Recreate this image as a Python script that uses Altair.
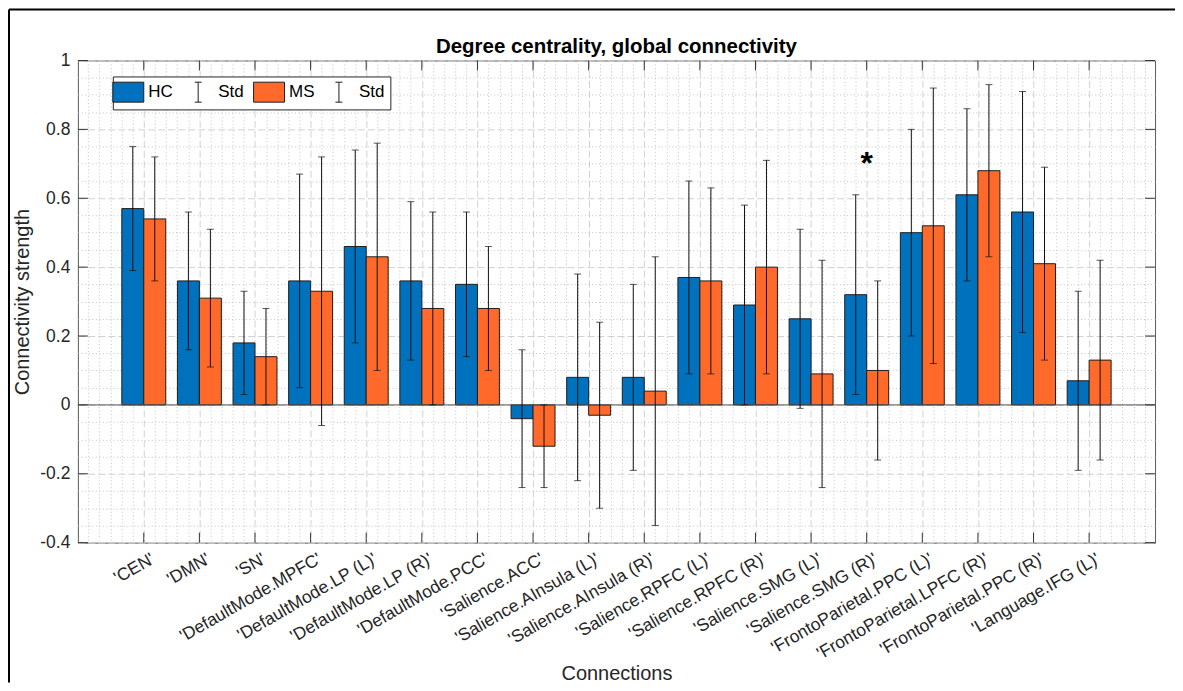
import altair as alt
import pandas as pd

# ---------------- data ----------------
connections = [
    "'CEN'", "'DMN'", "'SN'", "'DefaultMode.MPFC'", "'DefaultMode.LP (L)'",
    "'DefaultMode.LP (R)'", "'DefaultMode.PCC'", "'Salience.ACC'",
    "'Salience.AInsula (L)'", "'Salience.AInsula (R)'", "'Salience.RPFC (L)'",
    "'Salience.RPFC (R)'", "'Salience.SMG (L)'", "'Salience.SMG (R)'",
    "'FrontoParietal.PPC (L)'", "'FrontoParietal.LPFC (R)'",
    "'FrontoParietal.PPC (R)'", "'Language.IFG (L)'",
]
hc_mean = [0.57, 0.36, 0.18, 0.36, 0.46, 0.36, 0.35, -0.04, 0.08, 0.08,
           0.37, 0.29, 0.25, 0.32, 0.50, 0.61, 0.56, 0.07]
hc_std = [0.18, 0.20, 0.15, 0.31, 0.28, 0.23, 0.21, 0.20, 0.30, 0.27,
          0.28, 0.29, 0.26, 0.29, 0.30, 0.25, 0.35, 0.26]
ms_mean = [0.54, 0.31, 0.14, 0.33, 0.43, 0.28, 0.28, -0.12, -0.03, 0.04,
           0.36, 0.40, 0.09, 0.10, 0.52, 0.68, 0.41, 0.13]
ms_std = [0.18, 0.20, 0.14, 0.39, 0.33, 0.28, 0.18, 0.12, 0.27, 0.39,
          0.27, 0.31, 0.33, 0.26, 0.40, 0.25, 0.28, 0.29]
groups = ["HC", "MS"]

sig_conn = ["'Salience.SMG (R)'"]
sig_y = [0.72]

title_text = ["Degree centrality, global connectivity"]

y_major = [-0.4, -0.2, 0, 0.2, 0.4, 0.6, 0.8, 1]
y_ticks = [round(-0.4 + 0.05 * i, 2) for i in range(29)]
x_grid = [round(0.2 * i, 1) for i in range(96)]

legend_entries = ["HC", "Std", "MS", "Std "]

# ---------------- styles ----------------
BLUE = "#0072BD"
ORANGE = "#FF6A2B"
FONT = "Liberation Sans"
TXT = "#262626"
W, H = 1079, 483
PAD_OUT = 0.685
X_LO, X_HI = 0.5 - PAD_OUT, 18.5 + PAD_OUT

rows = []
for g, means, stds in (("HC", hc_mean, hc_std), ("MS", ms_mean, ms_std)):
    for c, m, s in zip(connections, means, stds):
        rows.append({"conn": c, "group": g, "mean": m, "std": s})
df = pd.DataFrame(rows)

x_scale = alt.Scale(type="band", domain=connections, paddingInner=0, paddingOuter=PAD_OUT)
off_scale = alt.Scale(type="band", domain=groups, paddingInner=0, paddingOuter=0.266)
y_scale = alt.Scale(domain=[-0.4, 1.0], nice=False, zero=False)

major_y_test = "abs(datum.value*5 - round(datum.value*5)) < 0.000001"
major_x_test = "abs(datum.value - round(datum.value)) < 0.000001 && datum.value > 0.5 && datum.value < 18.5"

# grid-only y axis (major dashed, minor dotted)
y_grid_axis = alt.Axis(
    orient="left", values=y_ticks, grid=True,
    gridDash={"condition": {"test": major_y_test, "value": [7, 3]}, "value": [1, 2.5]},
    gridColor={"condition": {"test": major_y_test, "value": "#d2d2d2"}, "value": "#c4c4c4"},
    gridWidth=1, labels=False, ticks=False, domain=False, title=None,
)
# labelled y axis
y_main_axis = alt.Axis(
    orient="left", values=y_major, grid=False, ticks=False, tickSize=0, domain=False,
    labelExpr="'' + datum.value",
    labelPadding=8, labelFontSize=17.5, labelColor=TXT, labelOverlap=False,
    titleFontSize=20, titleFontWeight="normal", titleColor=TXT, titlePadding=7,
)

x_axis = alt.Axis(
    grid=False, ticks=False, tickSize=0, domain=False,
    labelAngle=330, labelAlign="right", labelBaseline="top", labelPadding=7,
    labelOffset=5,
    labelFontSize=17.5, labelColor=TXT, labelOverlap=False, labelLimit=400,
    titleFontSize=20, titleFontWeight="normal", titleColor=TXT, titlePadding=1,
)

base = alt.Chart(df)

bars = base.mark_bar(stroke="#1e1e1e", strokeWidth=1).encode(
    x=alt.X("conn:N", scale=x_scale, sort=connections, axis=x_axis, title="Connections"),
    xOffset=alt.XOffset("group:N", scale=off_scale, sort=groups),
    y=alt.Y("mean:Q", scale=y_scale, axis=y_grid_axis),
    y2=alt.datum(0),
    fill=alt.Fill("group:N", scale=alt.Scale(domain=groups, range=[BLUE, ORANGE]), legend=None),
)

err_base = base.transform_calculate(
    lo="datum.mean - datum.std", hi="datum.mean + datum.std"
)
xe = alt.X("conn:N", scale=x_scale, sort=connections, axis=None)
oe = alt.XOffset("group:N", scale=off_scale, sort=groups)

err_rule = err_base.mark_rule(color="#111111", strokeWidth=1).encode(
    x=xe, xOffset=oe,
    y=alt.Y("lo:Q", scale=y_scale, axis=None), y2="hi:Q",
)
cap_lo = err_base.mark_tick(color="#111111", thickness=1, size=7).encode(
    x=xe, xOffset=oe, y=alt.Y("lo:Q", scale=y_scale, axis=None),
)
cap_hi = err_base.mark_tick(color="#111111", thickness=1, size=7).encode(
    x=xe, xOffset=oe, y=alt.Y("hi:Q", scale=y_scale, axis=None),
)

zero_line = alt.Chart(pd.DataFrame({"v": [0]})).mark_rule(
    color="#555555", strokeWidth=1
).encode(y=alt.Y("v:Q", scale=y_scale, axis=None))

# vertical grid (major dashed at categories, minor dotted), on an aligned linear scale
xgrid = alt.Chart(pd.DataFrame({"gx": [1]})).mark_point(opacity=0).encode(
    x=alt.X("gx:Q", scale=alt.Scale(domain=[X_LO, X_HI], nice=False, zero=False),
            axis=alt.Axis(orient="top", values=x_grid, grid=True, labels=False,
                          ticks=False, domain=False, title=None,
                          gridDash={"condition": {"test": major_x_test, "value": [7, 3]}, "value": [1, 2.5]},
                          gridColor={"condition": {"test": major_x_test, "value": "#d2d2d2"}, "value": "#c4c4c4"},
                          gridWidth=1)),
)

# inward ticks (MATLAB style box ticks); the left one carries the labelled y axis
ydf = pd.DataFrame({"v": y_major})
tick_l = alt.Chart(ydf).mark_rule(color="#333333", strokeWidth=1).encode(
    y=alt.Y("v:Q", scale=y_scale, axis=y_main_axis, title="Connectivity strength"),
    x=alt.value(0), x2=alt.value(10))
tick_r = alt.Chart(ydf).mark_rule(color="#333333", strokeWidth=1).encode(
    y=alt.Y("v:Q", scale=y_scale, axis=None), x=alt.value(W - 10), x2=alt.value(W))
cdf = pd.DataFrame({"conn": connections})
tick_t = alt.Chart(cdf).mark_rule(color="#333333", strokeWidth=1).encode(
    x=alt.X("conn:N", scale=x_scale, sort=connections, axis=None), y=alt.value(0), y2=alt.value(10))
tick_b = alt.Chart(cdf).mark_rule(color="#333333", strokeWidth=1).encode(
    x=alt.X("conn:N", scale=x_scale, sort=connections, axis=None), y=alt.value(H - 10), y2=alt.value(H))

star = alt.Chart(pd.DataFrame({"conn": sig_conn, "y": sig_y})).mark_text(
    text="*", fontSize=32, fontWeight="bold", baseline="middle", dy=7, color="black"
).encode(
    x=alt.X("conn:N", scale=x_scale, sort=connections, axis=None),
    y=alt.Y("y:Q", scale=y_scale, axis=None),
)

# chart title (as a text mark so it sits just above the plot box)
title = alt.Chart(pd.DataFrame({"t": title_text})).mark_text(
    fontSize=20.5, fontWeight="bold", color="black", align="center", baseline="alphabetic"
).encode(text="t:N", x=alt.value(W / 2), y=alt.value(-8))

# legend
swatch = "M-1.55,-1L1.55,-1L1.55,1L-1.55,1Z"
ibar = "M-0.35,-1L0.35,-1M0,-1L0,1M-0.35,1L0.35,1M-1.55,0L-1.55,0M1.55,0L1.55,0"
leg_props = dict(
    orient="none", legendX=35, legendY=16, direction="horizontal", columns=4,
    title=None, labelExpr="trim(datum.label)", labelFontSize=17, labelColor="black",
    symbolSize=400, labelOffset=9.5, columnPadding=7, padding=5,
    strokeColor="#262626", fillColor="white",
    symbolStrokeWidth=1, symbolOpacity=1,
)
legend_layer = alt.Chart(pd.DataFrame({"entry": legend_entries})).transform_filter(
    "false"
).mark_point(filled=True, size=400, strokeWidth=1, opacity=1).encode(
    color=alt.Color("entry:N", scale=alt.Scale(domain=legend_entries,
                                               range=[BLUE, "black", ORANGE, "black"]),
                    legend=alt.Legend(**leg_props)),
    shape=alt.Shape("entry:N", scale=alt.Scale(domain=legend_entries,
                                               range=[swatch, ibar, swatch, ibar]),
                    legend=alt.Legend(**leg_props)),
    stroke=alt.Stroke("entry:N", scale=alt.Scale(domain=legend_entries,
                                                 range=["#1e1e1e", "#1e1e1e", "#1e1e1e", "#1e1e1e"]),
                      legend=alt.Legend(**leg_props)),
)

# figure border (left and top edges of the figure window)
border_l = alt.Chart(pd.DataFrame({"a": [0]})).mark_rule(color="black", strokeWidth=2).encode(
    x=alt.value(-69), y=alt.value(-51), y2=alt.value(H + 140))
border_t = alt.Chart(pd.DataFrame({"a": [0]})).mark_rule(color="black", strokeWidth=2).encode(
    x=alt.value(-69), x2=alt.value(W + 20), y=alt.value(-51))

chart = alt.layer(
    bars, xgrid, zero_line, err_rule, cap_lo, cap_hi, star,
    tick_l, tick_r, tick_t, tick_b, legend_layer, title, border_l, border_t,
).resolve_scale(x="independent").resolve_axis(y="independent").properties(
    width=W, height=H,
    autosize=alt.AutoSizeParams(type="none"),
    padding={"left": 70, "top": 52, "right": 20, "bottom": 140},
).configure(font=FONT).configure_view(stroke="#5a5a5a", strokeWidth=1)

chart.save("out.html", embed_options={"renderer": "svg", "actions": False})
